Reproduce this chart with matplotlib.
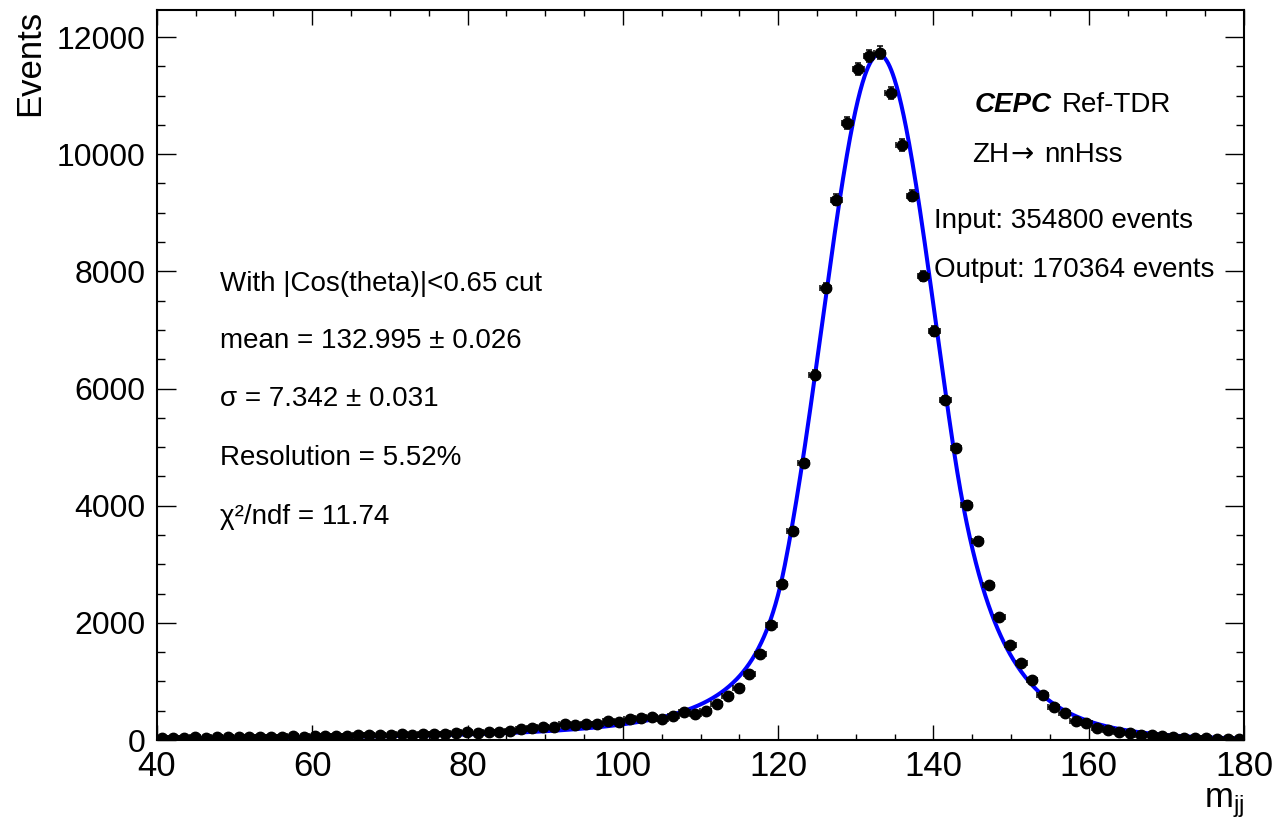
import numpy as np
import matplotlib
matplotlib.use("Agg")
import matplotlib.pyplot as plt
from matplotlib.ticker import MultipleLocator

plt.rcParams['font.family'] = ['Liberation Sans', 'DejaVu Sans']
plt.rcParams['mathtext.fontset'] = 'custom'
plt.rcParams['mathtext.rm'] = 'Liberation Sans'
plt.rcParams['mathtext.it'] = 'Liberation Sans:italic'

# ---- data: histogram of m_jj (100 bins, 40-180) ----
x_lo, x_hi, n_bins = 40.0, 180.0, 100
counts = [40, 35, 40, 45, 40, 45, 50, 45, 50, 55,
          50, 55, 60, 55, 60, 70, 75, 70, 80, 85,
          80, 90, 95, 90, 100, 105, 100, 120, 130, 125,
          140, 145, 160, 185, 200, 227, 215, 270, 260, 275,
          280, 330, 300, 355, 375, 400, 365, 415, 470, 450,
          500, 614, 756, 895, 1130, 1470, 1965, 2655, 3570, 4730,
          6230, 7710, 9220, 10530, 11455, 11676, 11733, 11040, 10157, 9292,
          7921, 6987, 5804, 4979, 4012, 3402, 2646, 2105, 1622, 1320,
          1024, 760, 558, 455, 330, 296, 199, 171, 142, 125,
          85, 85, 70, 50, 40, 35, 30, 25, 25, 20]

# ---- fit (double-sided Crystal Ball) parameters ----
fit_norm = 11700.0
fit_mean = 132.995
fit_sigma = 7.342
fit_alpha_l, fit_n_l = 1.65, 2.0
fit_alpha_r, fit_n_r = 1.3, 12.0

left_lines = ["With |Cos(theta)|<0.65 cut",
              "mean = 132.995 \u00b1 0.026",
              "\u03c3 = 7.342 \u00b1 0.031",
              "Resolution = 5.52%",
              "\u03c7\u00b2/ndf = 11.74"]
right_lines = ["Input: 354800 events", "Output: 170364 events"]


def dscb(x):
    t = (x - fit_mean) / fit_sigma
    out = np.exp(-0.5 * t ** 2)
    al, nl, ar, nr = fit_alpha_l, fit_n_l, fit_alpha_r, fit_n_r
    Al = (nl / al) ** nl * np.exp(-0.5 * al ** 2)
    Bl = nl / al - al
    Ar = (nr / ar) ** nr * np.exp(-0.5 * ar ** 2)
    Br = nr / ar - ar
    m = t < -al
    out[m] = Al * (Bl - t[m]) ** (-nl)
    m = t > ar
    out[m] = Ar * (Br + t[m]) ** (-nr)
    return fit_norm * out


W, H = 1280, 822
fig = plt.figure(figsize=(W / 100, H / 100), dpi=100)
ax = fig.add_axes([157 / W, 1 - 740 / H, (1244 - 157) / W, (740 - 10) / H])

edges = np.linspace(x_lo, x_hi, n_bins + 1)
centers = 0.5 * (edges[:-1] + edges[1:])
halfw = 0.5 * (edges[1] - edges[0])
y = np.array(counts, dtype=float)

xf = np.linspace(x_lo, x_hi, 1400)
ax.plot(xf, dscb(xf), color=(0, 0, 1), lw=2.9, zorder=3)

ax.errorbar(centers, y, yerr=np.sqrt(y), xerr=halfw, fmt='o', color='black',
            ms=7.5, elinewidth=1.1, capsize=2.0, capthick=1.1, zorder=4)

ax.set_xlim(x_lo, x_hi)
ax.set_ylim(0, 12461)
ax.xaxis.set_major_locator(MultipleLocator(20))
ax.xaxis.set_minor_locator(MultipleLocator(5))
ax.yaxis.set_major_locator(MultipleLocator(2000))
ax.yaxis.set_minor_locator(MultipleLocator(500))
ax.tick_params(axis='both', which='both', direction='in', top=True, right=True,
               width=1.0, color='black')
ax.tick_params(axis='x', which='major', length=10.5, labelsize=25, pad=7.5)
ax.tick_params(axis='x', which='minor', length=4.5)
ax.tick_params(axis='y', which='major', length=14, labelsize=23, pad=8.5)
ax.tick_params(axis='y', which='minor', length=6)
for s in ax.spines.values():
    s.set_linewidth(1.5)

fig.text(30 / W, 1 - 10 / H, "Events", rotation=90, ha='center', va='top', fontsize=25)
fig.text(1244 / W, 1 - 820 / H, r"$\mathregular{m_{jj}}$", ha='right', va='bottom', fontsize=25)

fs = 20
for i, s in enumerate(left_lines):
    yb = [291, 348, 406, 465, 524][i]
    fig.text(220 / W, 1 - yb / H, s, ha='left', va='baseline', fontsize=fs)

fig.text(975 / W, 1 - 112 / H, "CEPC", ha='left', va='baseline', fontsize=fs,
         fontweight='bold', fontstyle='italic')
fig.text(1062 / W, 1 - 112 / H, "Ref-TDR", ha='left', va='baseline', fontsize=fs)
fig.text(972 / W, 1 - 162 / H, "ZH", ha='left', va='baseline', fontsize=fs)
fig.text(1010 / W, 1 - 162 / H, "\u2192", ha='left', va='baseline', fontsize=fs,
         family='DejaVu Sans')
fig.text(1044 / W, 1 - 162 / H, "nnHss", ha='left', va='baseline', fontsize=fs)
fig.text(934 / W, 1 - 228 / H, right_lines[0], ha='left', va='baseline', fontsize=fs)
fig.text(934 / W, 1 - 277 / H, right_lines[1], ha='left', va='baseline', fontsize=fs)

fig.savefig("out.png", dpi=100)
